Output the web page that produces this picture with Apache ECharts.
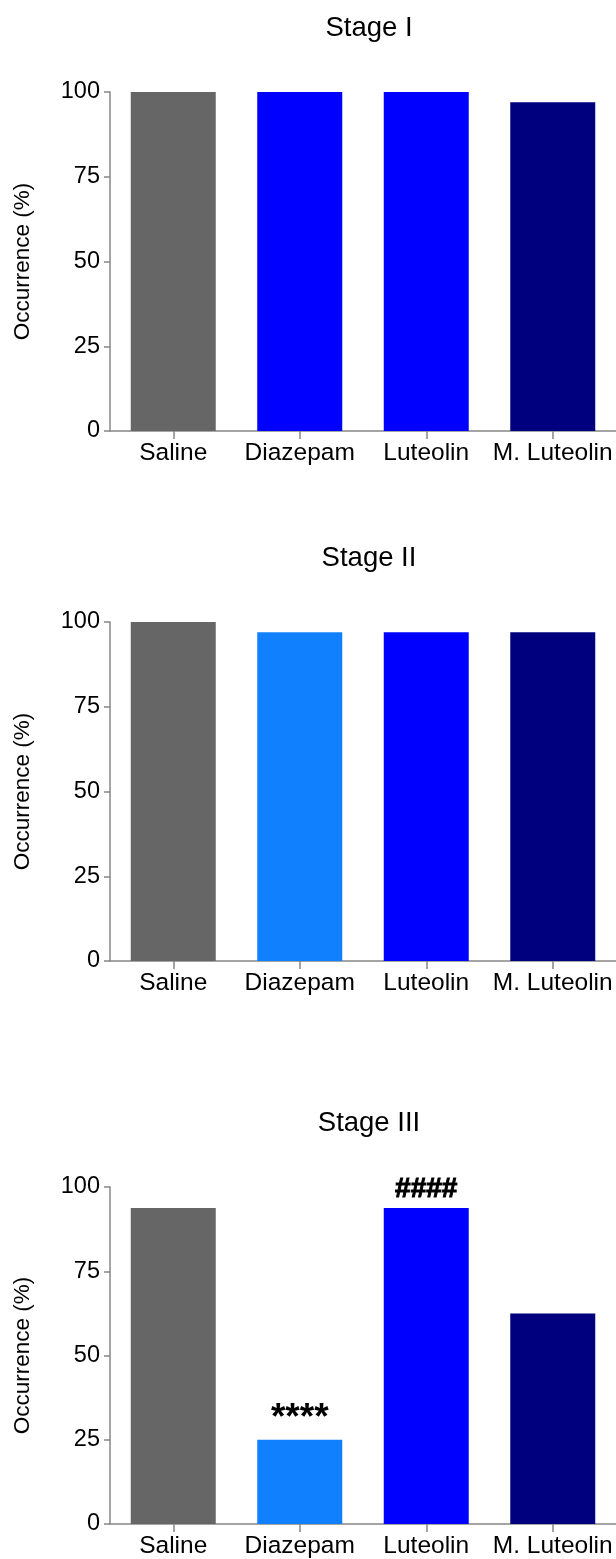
<!DOCTYPE html>
<html>
<head>
<meta charset="utf-8">
<title>Seizure stage occurrence</title>
<script src="https://cdn.jsdelivr.net/npm/echarts@6/dist/echarts.min.js"></script>
<style>
  html, body { margin: 0; padding: 0; background: #ffffff; }
  #chart { width: 616px; height: 1559px; }
</style>
</head>
<body>
<div id="chart"></div>
<script>
// Groups and per-stage occurrence (%)
const categories = ['Saline', 'Diazepam', 'Luteolin', 'M. Luteolin'];
const stageTitles = ['Stage I', 'Stage II', 'Stage III'];
const stage1 = [100, 100, 100, 97];
const stage2 = [100, 97, 97, 97];
const stage3 = [93.75, 25, 93.75, 62.5];
// Significance marks shown above the Stage III bars
const stage3Marks = ['', '****', '####', ''];
const yTicks = [0, 25, 50, 75, 100];

// Bar colours per stage
const stage1Colors = ['#666666', '#0000ff', '#0000ff', '#00007e'];
const stage2Colors = ['#666666', '#1180ff', '#0000ff', '#00007e'];
const stage3Colors = ['#666666', '#1180ff', '#0000ff', '#00007e'];

const stages = [
  { values: stage1, colors: stage1Colors, marks: null },
  { values: stage2, colors: stage2Colors, marks: null },
  { values: stage3, colors: stage3Colors, marks: stage3Marks }
];

const FONT = '"Liberation Sans", Arial, sans-serif';
const AXIS_COLOR = '#878787';
const gridTops = [92, 622, 1187];
const titleTops = [9, 539, 1104];
const plotH = 339;

// Style for a significance mark; asterisks sit high in the em box, so they get a larger size
function markLabel(mark) {
  const isStar = mark === '****';
  return {
    show: true,
    position: 'top',
    formatter: mark,
    fontFamily: FONT,
    fontWeight: 'bold',
    fontSize: isStar ? 37 : 28,
    color: '#000000',
    textBorderColor: '#000000',
    textBorderWidth: isStar ? 0 : 1,
    distance: isStar ? 2 : 5
  };
}

const chart = echarts.init(document.getElementById('chart'), null, { renderer: 'canvas' });

const option = {
  backgroundColor: '#ffffff',
  animation: false,
  title: stageTitles.map((t, i) => ({
    text: t,
    left: 364,
    top: titleTops[i],
    textAlign: 'center',
    textStyle: { fontFamily: FONT, fontSize: 27.5, fontWeight: 'normal', color: '#000000' }
  })),
  grid: gridTops.map(top => ({ left: 110, right: 0, top: top, height: plotH, containLabel: false })),
  xAxis: gridTops.map((_, i) => ({
    type: 'category',
    gridIndex: i,
    data: categories,
    axisLine: { show: true, lineStyle: { color: AXIS_COLOR, width: 1.5 } },
    axisTick: { show: true, alignWithLabel: true, length: 8, lineStyle: { color: AXIS_COLOR, width: 1.5 } },
    axisLabel: { fontFamily: FONT, fontSize: 24.5, color: '#000000', margin: 10, interval: 0 },
    splitLine: { show: false }
  })),
  yAxis: gridTops.map((_, i) => ({
    type: 'value',
    gridIndex: i,
    min: yTicks[0],
    max: yTicks[yTicks.length - 1],
    interval: yTicks[1] - yTicks[0],
    name: 'Occurrence (%)',
    nameLocation: 'middle',
    nameGap: 76,
    nameTextStyle: { fontFamily: FONT, fontSize: 22.5, color: '#000000' },
    axisLine: { show: true, lineStyle: { color: AXIS_COLOR, width: 1.5 } },
    axisTick: { show: true, length: 6, lineStyle: { color: AXIS_COLOR, width: 1.5 } },
    axisLabel: { fontFamily: FONT, fontSize: 23.5, color: '#000000', margin: 10 },
    splitLine: { show: false }
  })),
  series: stages.map((s, i) => ({
    type: 'bar',
    xAxisIndex: i,
    yAxisIndex: i,
    barWidth: 85,
    data: s.values.map((v, j) => ({
      value: v,
      itemStyle: { color: s.colors[j] },
      label: s.marks && s.marks[j] ? markLabel(s.marks[j]) : { show: false }
    }))
  }))
};

chart.setOption(option);
</script>
</body>
</html>
